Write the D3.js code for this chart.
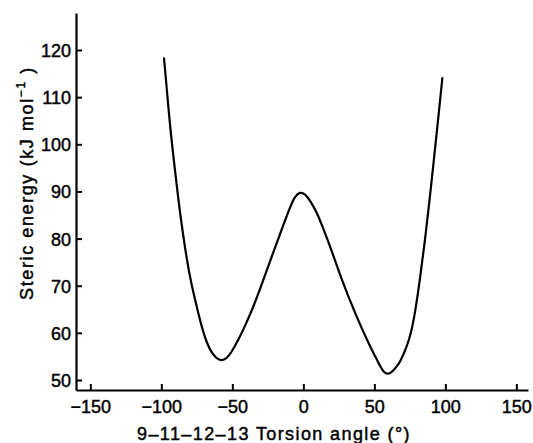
<!DOCTYPE html>
<html>
<head>
<meta charset="utf-8">
<script src="https://cdn.jsdelivr.net/npm/d3@7"></script>
<style>
  html, body { margin: 0; padding: 0; background: #fff; }
  svg { display: block; }
  text { font-family: "Liberation Sans", Arial, Helvetica, sans-serif; fill: #000; stroke: #000; stroke-width: 0.45px; }
</style>
</head>
<body>
<svg id="chart" width="533" height="443"></svg>
<script>
// Torsion angle (degrees)
const angles = [-98.10, -95.49, -93.38, -90.0, -87.18, -82.11, -78.73, -74.51, -70.99, -67.82, -64.65, -61.48, -57.46, -54.08, -50.92, -45.77, -41.06, -35.21, -29.44, -23.45, -16.41, -9.37, -5.85, -2.32, 1.20, 4.72, 9.44, 13.87, 18.80, 27.04, 36.41, 46.97, 51.20, 54.72, 56.83, 59.15, 61.06, 63.17, 65.99, 68.10, 72.82, 75.85, 78.66, 82.04, 85.70, 88.87, 91.90, 94.86, 97.89];
// Steric energy (kJ mol-1)
const energies = [118.24, 109.40, 102.33, 93.49, 86.06, 75.46, 70.15, 64.85, 60.61, 57.74, 55.83, 54.67, 54.03, 54.56, 55.73, 58.49, 61.46, 65.49, 70.15, 75.24, 80.97, 86.70, 89.03, 89.94, 89.46, 88.08, 85.64, 82.24, 78.43, 71.21, 64.15, 57.06, 54.67, 52.55, 51.59, 51.27, 51.42, 51.91, 52.97, 53.82, 57.00, 59.97, 64.21, 71.21, 79.70, 88.18, 96.67, 105.15, 114.06];

const xTicks = [-150, -100, -50, 0, 50, 100, 150];
const yTicks = [50, 60, 70, 80, 90, 100, 110, 120];

const xTitle = "9\u201311\u201312\u201313 Torsion angle (\u00b0)";
const yTitleMain = "Steric energy (kJ mol";
const yTitleSup = "\u22121";
const yTitleEnd = " )";

const svg = d3.select("#chart");

const x = d3.scaleLinear().domain([-160.1, 158.2]).range([76, 528]);
const y = d3.scaleLinear().domain([47.88, 127.85]).range([390, 13]);

// X axis
const gx = svg.append("g").attr("transform", "translate(0,390)")
  .call(d3.axisBottom(x).tickValues(xTicks).tickSizeInner(-6).tickSizeOuter(0).tickPadding(10).tickFormat(d3.format("d")));
gx.select(".domain").attr("stroke", "#000").attr("stroke-width", 2.2);
gx.selectAll(".tick line").attr("stroke", "#000").attr("stroke-width", 2);
gx.selectAll(".tick text").attr("font-size", 18).attr("font-family", "Liberation Sans, Arial, sans-serif").attr("fill", "#000");

// Y axis
const gy = svg.append("g").attr("transform", "translate(76,0)")
  .call(d3.axisLeft(y).tickValues(yTicks).tickSizeInner(-6).tickSizeOuter(0).tickPadding(5).tickFormat(d3.format("d")));
gy.select(".domain").attr("stroke", "#000").attr("stroke-width", 2.2);
gy.selectAll(".tick line").attr("stroke", "#000").attr("stroke-width", 2);
gy.selectAll(".tick text").attr("font-size", 18).attr("font-family", "Liberation Sans, Arial, sans-serif").attr("fill", "#000").attr("dy", "0.36em");

// Curve
const pts = angles.map((a, i) => [a, energies[i]]);
const line = d3.line().x(d => x(d[0])).y(d => y(d[1])).curve(d3.curveBasis);
svg.append("path").datum(pts)
  .attr("d", line)
  .attr("fill", "none")
  .attr("stroke", "#000")
  .attr("stroke-width", 2.2)
  .attr("stroke-linejoin", "round")
  .attr("stroke-linecap", "round");

// X title
svg.append("text")
  .attr("x", 274).attr("y", 440)
  .attr("text-anchor", "middle")
  .attr("font-size", 18)
  .attr("letter-spacing", "1.4px")
  .text(xTitle);

// Y title
const yt = svg.append("text")
  .attr("transform", "translate(33,183) rotate(-90)")
  .attr("text-anchor", "middle")
  .attr("font-size", 18)
  .attr("letter-spacing", "1.6px");
yt.append("tspan").text(yTitleMain);
yt.append("tspan").attr("dy", -8).attr("font-size", 12).text(yTitleSup);
yt.append("tspan").attr("dy", 8).text(yTitleEnd);
</script>
</body>
</html>
